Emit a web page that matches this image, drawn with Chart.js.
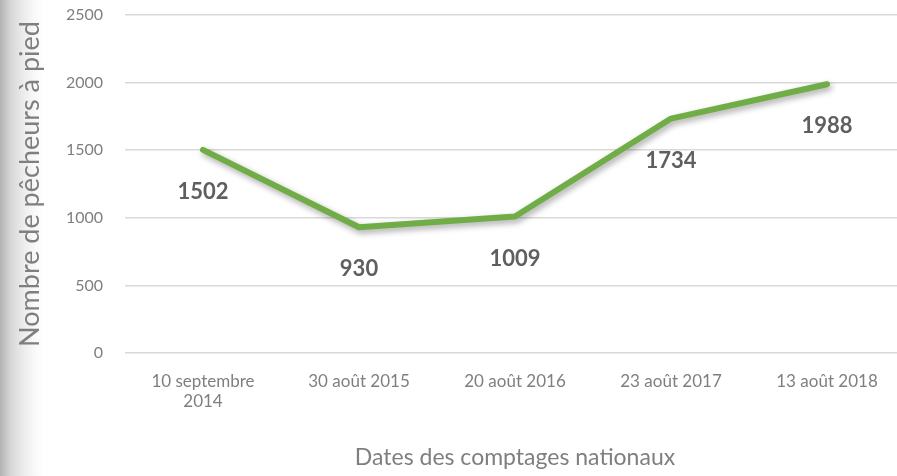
<!DOCTYPE html>
<html>
<head>
<meta charset="utf-8">
<script src="https://cdn.jsdelivr.net/npm/chart.js@4"></script>
<style>
  html, body { margin: 0; padding: 0; overflow: hidden; }
  body {
    width: 897px; height: 476px;
    background: linear-gradient(to right, #b3b3b3 0px, #c4c4c4 5px, #d9d9d9 12px, #ededed 24px, #fafafa 36px, #ffffff 44px);
  }
  #wrap { position: absolute; left: 0; top: 0; width: 910px; height: 476px; }
</style>
</head>
<body>
<div id="wrap"><canvas id="chart" width="910" height="476"></canvas></div>
<script>
// données
const dates = [["10 septembre", "2014"], "30 août 2015", "20 août 2016", "23 août 2017", "13 août 2018"];
const pecheurs = [1502, 930, 1009, 1734, 1988];
const yTicks = [0, 500, 1000, 1500, 2000, 2500];

const fontFamily = "Lato, 'Open Sans', sans-serif";

// ombre sous la ligne
const lineShadow = {
  id: "lineShadow",
  beforeDatasetDraw(chart) {
    const ctx = chart.ctx;
    ctx.save();
    ctx.shadowColor = "rgba(0,0,0,0.35)";
    ctx.shadowBlur = 6;
    ctx.shadowOffsetX = 2;
    ctx.shadowOffsetY = 3;
  },
  afterDatasetDraw(chart) {
    chart.ctx.restore();
  },
};

// étiquettes de valeurs sous les points
const valueLabels = {
  id: "valueLabels",
  afterDatasetsDraw(chart) {
    const { ctx, data } = chart;
    const meta = chart.getDatasetMeta(0);
    ctx.save();
    ctx.textAlign = "center";
    ctx.textBaseline = "middle";
    ctx.font = "bold 22px " + fontFamily;
    ctx.fillStyle = "#5f5f5f";
    meta.data.forEach(function (pt, i) {
      ctx.fillText(String(data.datasets[0].data[i]), pt.x, pt.y + 42);
    });
    ctx.restore();
  },
};

var ctx = document.getElementById("chart").getContext("2d");
var myChart = new Chart(ctx, {
  type: "line",
  plugins: [lineShadow, valueLabels],
  data: {
    labels: dates,
    datasets: [
      {
        data: pecheurs,
        borderColor: "#70AD47",
        borderWidth: 6,
        borderCapStyle: "round",
        borderJoinStyle: "round",
        pointRadius: 0,
        tension: 0,
        fill: false,
      },
    ],
  },
  options: {
    responsive: false,
    animation: false,
    layout: { padding: { top: 15, right: 5, left: 0, bottom: 0 } },
    plugins: {
      legend: { display: false },
      tooltip: { enabled: false },
    },
    scales: {
      x: {
        offset: true,
        grid: { display: false, drawTicks: false },
        border: { display: false },
        ticks: {
          color: "#7f7f7f",
          font: { family: fontFamily, size: 17 },
          padding: 18,
          maxRotation: 0,
          autoSkip: false,
        },
        title: {
          display: true,
          text: "Dates des comptages nationaux",
          color: "#7f7f7f",
          font: { family: fontFamily, size: 23 },
          padding: { top: 0, bottom: 5 },
        },
        afterFit: function (scale) {
          scale.height = 123;
          scale.paddingLeft = 0;
          scale.paddingRight = 0;
        },
      },
      y: {
        min: 0,
        max: 2500,
        afterBuildTicks: function (scale) {
          scale.ticks = yTicks.map(function (v) { return { value: v }; });
        },
        grid: { color: "#d9d9d9", lineWidth: 1.5, drawTicks: false },
        border: { display: false },
        ticks: {
          color: "#7f7f7f",
          font: { family: fontFamily, size: 16 },
          padding: 22,
          callback: function (value) {
            return String(value);
          },
        },
        title: {
          display: true,
          text: "Nombre de pêcheurs à pied",
          color: "#7f7f7f",
          font: { family: fontFamily, size: 27 },
          padding: { top: 14, bottom: 0 },
        },
        afterFit: function (scale) {
          scale.width = 125;
          scale.paddingTop = 0;
          scale.paddingBottom = 0;
        },
      },
    },
  },
});
</script>
</body>
</html>
